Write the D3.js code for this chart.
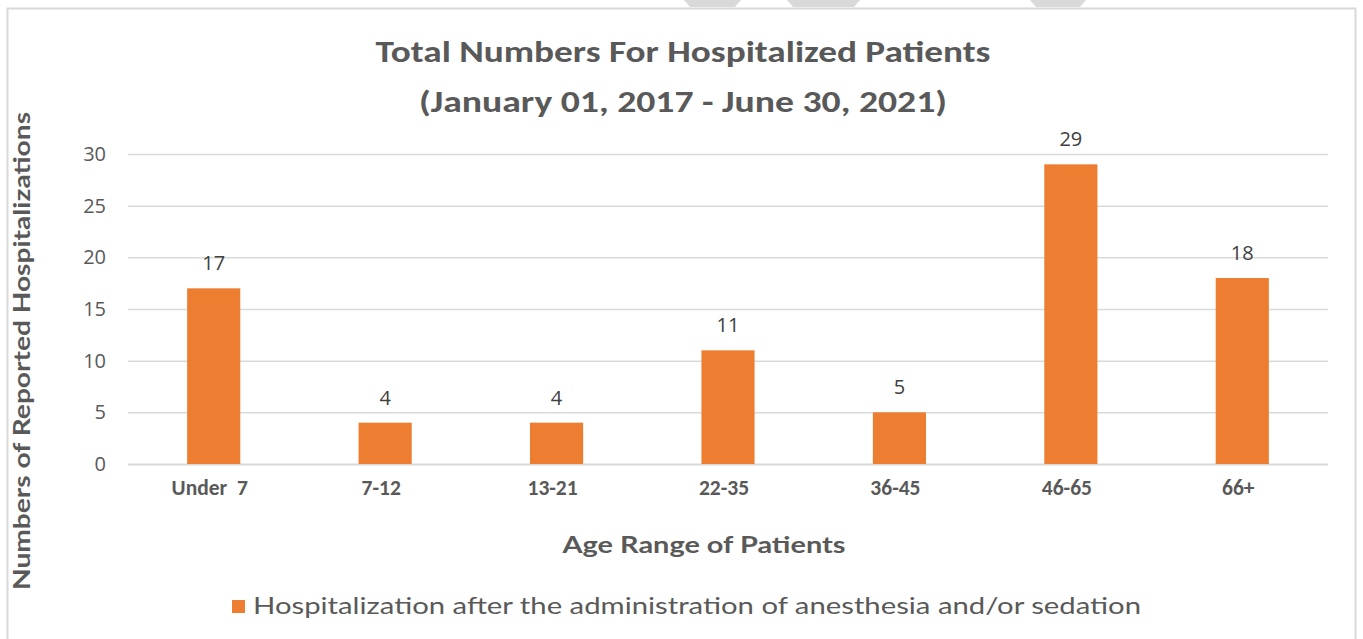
<!DOCTYPE html>
<html>
<head>
<meta charset="utf-8">
<script src="https://cdn.jsdelivr.net/npm/d3@7"></script>
<style>
  body { margin: 0; background: #fff; }
  svg { display: block; }
</style>
</head>
<body>
<div id="chart"></div>
<script>
// chart data
var ageRanges = ['Under  7', '7-12', '13-21', '22-35', '36-45', '46-65', '66+'];
var hospitalizations = [17, 4, 4, 11, 5, 29, 18];
var yTicks = [0, 5, 10, 15, 20, 25, 30];
var seriesName = 'Hospitalization after the administration of anesthesia and/or sedation';
var titleLines = ['Total Numbers For Hospitalized Patients', '(January 01, 2017 - June 30, 2021)'];

var width = 1363, height = 639;
var margin = {left: 128, right: 35, top: 154, bottom: 175};
var condensed = "Carlito, 'Liberation Sans Narrow', 'Open Sans', sans-serif";
var gothic = "'Lato', 'DejaVu Sans', sans-serif";

var svg = d3.select('#chart').append('svg')
  .attr('width', width)
  .attr('height', height);

// outer frame
svg.append('rect')
  .attr('x', 7.5).attr('y', 8.5)
  .attr('width', 1348).attr('height', 640)
  .attr('fill', '#fff')
  .attr('stroke', '#d9d9d9')
  .attr('stroke-width', 2);

// faint shapes cut at top edge
var topShapes = [[684, 741], [787, 860], [1030, 1086]];
svg.selectAll('path.deco').data(topShapes).enter().append('path')
  .attr('class', 'deco')
  .attr('d', function(d) { return 'M' + d[0] + ',0 L' + d[1] + ',0 L' + (d[1] - 6) + ',7 L' + (d[0] + 6) + ',7 Z'; })
  .attr('fill', '#d9d9d9');

var x = d3.scaleBand()
  .domain(ageRanges)
  .range([margin.left, width - margin.right])
  .paddingInner(0.69)
  .paddingOuter(0.345);

var y = d3.scaleLinear()
  .domain([0, 30])
  .range([464, 154]);

// gridlines
svg.append('g')
  .selectAll('line')
  .data(yTicks)
  .enter().append('line')
  .attr('x1', margin.left)
  .attr('x2', width - margin.right)
  .attr('y1', function(d) { return y(d) + 0.5; })
  .attr('y2', function(d) { return y(d) + 0.5; })
  .attr('stroke', '#d9d9d9')
  .attr('stroke-width', function(d) { return d === 0 ? 2 : 1.5; });

// y axis labels
var yAxis = d3.axisLeft(y).tickValues(yTicks).tickSize(0).tickPadding(0);
var yg = svg.append('g')
  .attr('transform', 'translate(106,0)')
  .call(yAxis);
yg.select('.domain').remove();
yg.selectAll('text')
  .attr('font-family', "'Open Sans', sans-serif")
  .attr('font-size', 20)
  .attr('fill', '#595959');

// x axis labels
var xAxis = d3.axisBottom(x).tickSize(0).tickPadding(0);
var xg = svg.append('g')
  .attr('transform', 'translate(-4,480)')
  .call(xAxis);
xg.select('.domain').remove();
xg.selectAll('text')
  .attr('font-family', condensed)
  .attr('font-weight', 'bold')
  .attr('font-size', 21.5)
  .attr('fill', '#595959')
  .style('white-space', 'pre');

var data = ageRanges.map(function(c, i) { return {cat: c, val: hospitalizations[i]}; });

// bars
svg.selectAll('rect.bar').data(data).enter().append('rect')
  .attr('class', 'bar')
  .attr('x', function(d) { return x(d.cat); })
  .attr('y', function(d) { return y(d.val); })
  .attr('width', x.bandwidth())
  .attr('height', function(d) { return y(0) - y(d.val); })
  .attr('fill', '#ed7d31');

// value labels
svg.selectAll('text.val').data(data).enter().append('text')
  .attr('class', 'val')
  .attr('x', function(d) { return x(d.cat) + x.bandwidth() / 2; })
  .attr('y', function(d) { return y(d.val) - 18; })
  .attr('text-anchor', 'middle')
  .attr('font-family', "'Open Sans', sans-serif")
  .attr('font-size', 20)
  .attr('fill', '#404040')
  .text(function(d) { return d.val; });

// title
svg.selectAll('text.title').data(titleLines).enter().append('text')
  .attr('class', 'title')
  .attr('x', 683)
  .attr('y', function(d, i) { return 62 + i * 50; })
  .attr('text-anchor', 'middle')
  .attr('font-family', condensed)
  .attr('font-weight', 'bold')
  .attr('font-size', 30)
  .attr('fill', '#595959')
  .attr('textLength', function(d, i) { return i === 0 ? 615 : 528; })
  .attr('lengthAdjust', 'spacingAndGlyphs')
  .text(function(d) { return d; });

// axis titles
svg.append('text')
  .attr('transform', 'translate(30,351) rotate(-90)')
  .attr('text-anchor', 'middle')
  .attr('font-family', gothic)
  .attr('font-weight', 'bold')
  .attr('font-size', 22)
  .attr('fill', '#595959')
  .attr('textLength', 478)
  .attr('lengthAdjust', 'spacingAndGlyphs')
  .text('Numbers of Reported Hospitalizations');

svg.append('text')
  .attr('x', 704)
  .attr('y', 553)
  .attr('text-anchor', 'middle')
  .attr('font-family', gothic)
  .attr('font-weight', 'bold')
  .attr('font-size', 23)
  .attr('fill', '#595959')
  .attr('textLength', 283)
  .attr('lengthAdjust', 'spacingAndGlyphs')
  .text('Age Range of Patients');

// legend
var legend = svg.append('g').attr('transform', 'translate(232,600)');
legend.append('rect')
  .attr('width', 13).attr('height', 13)
  .attr('fill', '#ed7d31');
legend.append('text')
  .attr('x', 21)
  .attr('y', 14)
  .attr('font-family', gothic)
  .attr('font-size', 24)
  .attr('fill', '#595959')
  .attr('textLength', 888)
  .attr('lengthAdjust', 'spacingAndGlyphs')
  .text(seriesName);
</script>
</body>
</html>
